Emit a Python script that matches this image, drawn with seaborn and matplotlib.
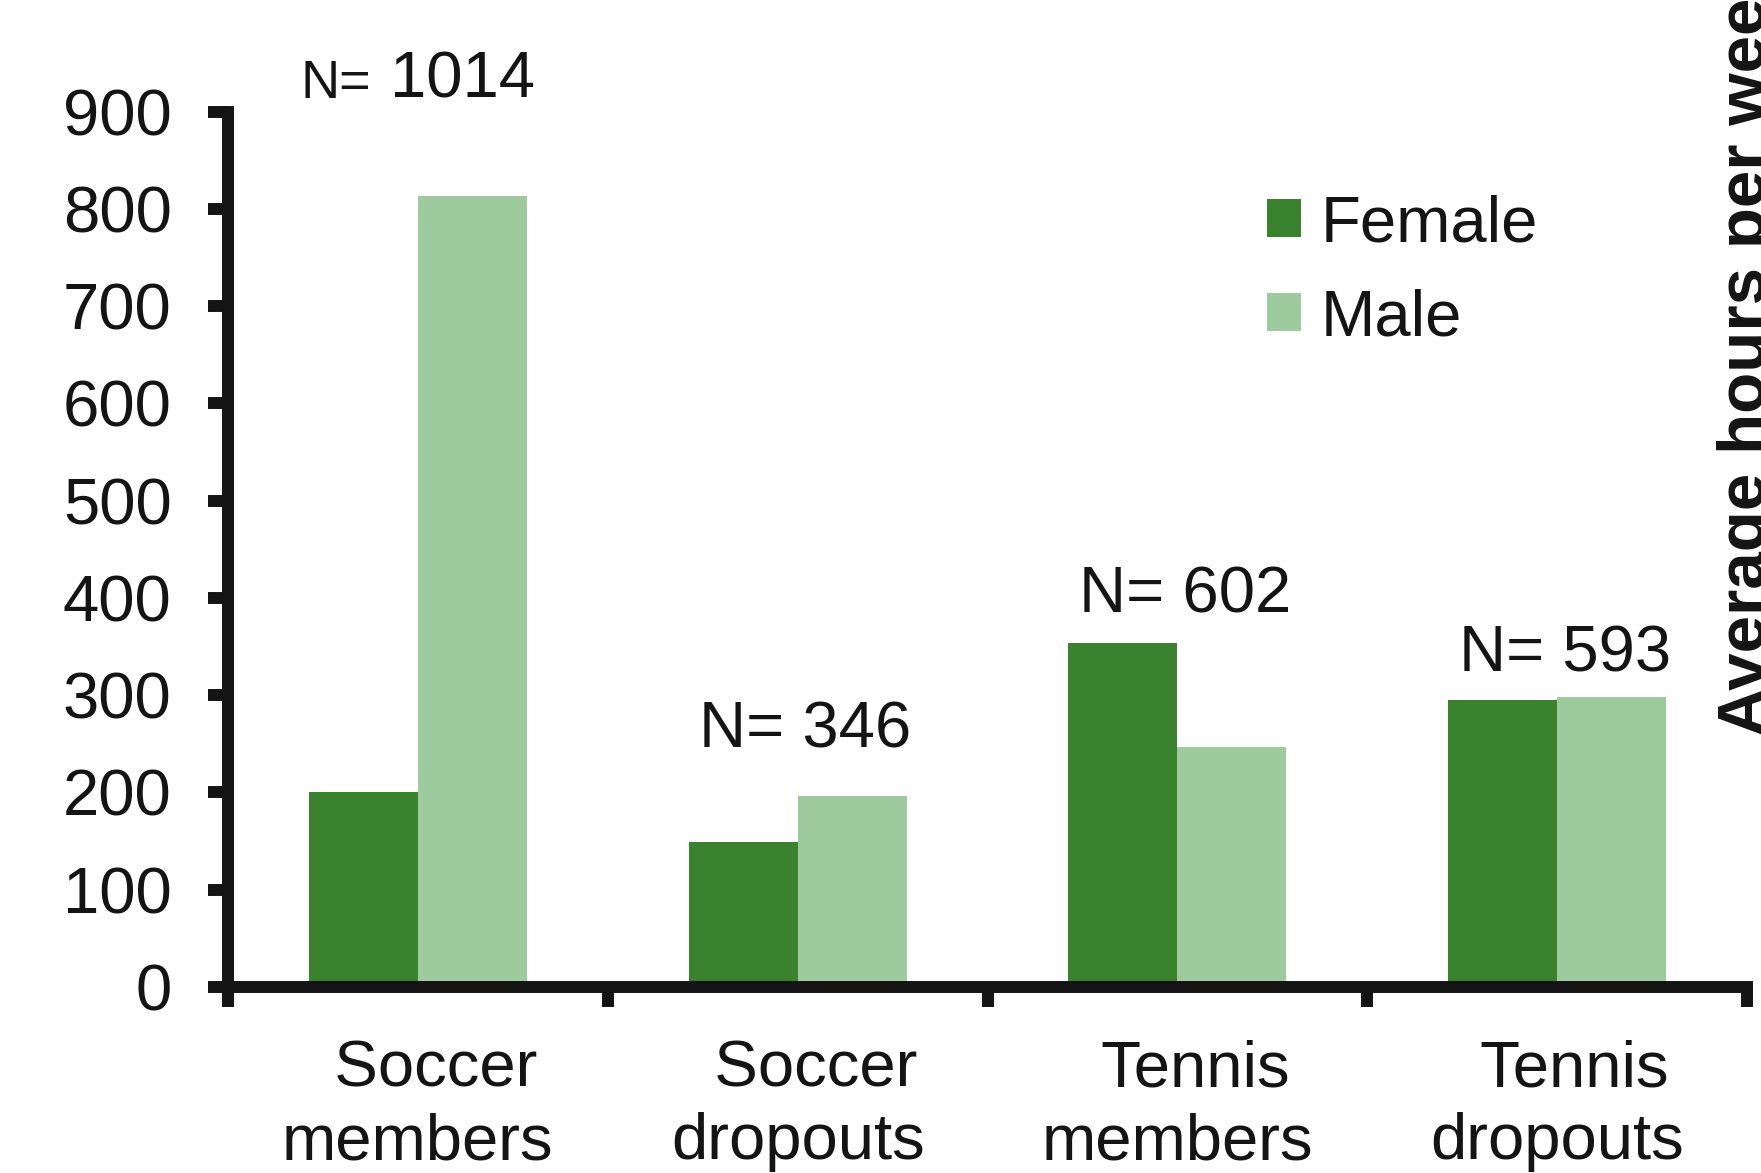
import matplotlib
matplotlib.use("Agg")
import matplotlib.pyplot as plt
import seaborn as sns
import pandas as pd
from matplotlib.patches import Patch

# Training volume by group and sex
groups = ["Soccer members", "Soccer dropouts", "Tennis members", "Tennis dropouts"]
group_labels = ["  Soccer\nmembers", "  Soccer\ndropouts", "  Tennis\nmembers", "  Tennis\ndropouts"]
female = [200, 149, 354, 295]
male = [813, 196, 247, 298]
sample_sizes = ["1014", "346", "602", "593"]
yticks = [0, 100, 200, 300, 400, 500, 600, 700, 800, 900]

colors = {"Female": "#3A822D", "Male": "#9DCB9D"}
ink = "#141414"

df = pd.DataFrame({
    "group": groups * 2,
    "sex": ["Female"] * 4 + ["Male"] * 4,
    "value": female + male,
})

sns.set_theme(style="white")
plt.rcParams["font.family"] = ["Liberation Sans", "DejaVu Sans"]

fig = plt.figure(figsize=(17.61, 11.73), dpi=100)
ax = fig.add_axes([228 / 1761, 186 / 1173, (1747 - 228) / 1761, (987 - 111.5) / 1173])

sns.barplot(data=df, x="group", y="value", hue="sex", order=groups,
            hue_order=["Female", "Male"], palette=colors, width=0.574,
            saturation=1, linewidth=0, legend=False, ax=ax)

ax.set_xlim(-0.5, 3.5)
ax.set_ylim(0, 900)
ax.set_xlabel("")
ax.set_ylabel("")

for side in ["top", "right"]:
    ax.spines[side].set_visible(False)
for side in ["left", "bottom"]:
    ax.spines[side].set_linewidth(8.6)
    ax.spines[side].set_color(ink)
    ax.spines[side].set_capstyle("projecting")

ax.set_yticks(yticks)
ax.set_yticklabels([str(v) for v in yticks])
ax.tick_params(axis="y", which="major", direction="out", length=14.5, width=8.6,
               color=ink, labelsize=47, labelcolor=ink, pad=26, left=True)

# Boundary ticks on the x axis, category names as minor labels
ax.set_xticks([-0.5, 0.5, 1.5, 2.5, 3.5])
ax.set_xticklabels([])
ax.set_xticks([0, 1, 2, 3], minor=True)
ax.set_xticklabels(group_labels, minor=True, linespacing=1.27)
ax.tick_params(axis="x", which="major", direction="out", length=14.5, width=8.6,
               color=ink, bottom=True)
ax.tick_params(axis="x", which="minor", length=0, labelsize=47, labelcolor=ink, pad=38)

# Sample sizes above each group
ax.text(-0.123, 914, "N=", ha="right", va="baseline", fontsize=39, color=ink)
ax.text(-0.073, 914, sample_sizes[0], ha="left", va="baseline", fontsize=47, color=ink)
for i, yb in zip([1, 2, 3], [246, 385, 324]):
    ax.text(i + 0.02, yb, "N= " + sample_sizes[i], ha="center", va="baseline",
            fontsize=47, color=ink)

handles = [Patch(facecolor=colors["Female"], edgecolor="none", label="Female"),
           Patch(facecolor=colors["Male"], edgecolor="none", label="Male")]
ax.legend(handles=handles, loc="upper left", bbox_to_anchor=(1267 / 1761, 1 - 194 / 1173),
          bbox_transform=fig.transFigure, frameon=False, fontsize=47,
          handlelength=0.52, handleheight=0.52, handletextpad=0.3,
          labelspacing=0.53, borderpad=0, borderaxespad=0, labelcolor=ink)

fig.text(1717 / 1761, 1 - 736 / 1173, "Average hours per week", rotation=90,
         ha="left", va="bottom", fontsize=48.5, fontweight="bold", color=ink)

fig.savefig("out.png", dpi=100)
